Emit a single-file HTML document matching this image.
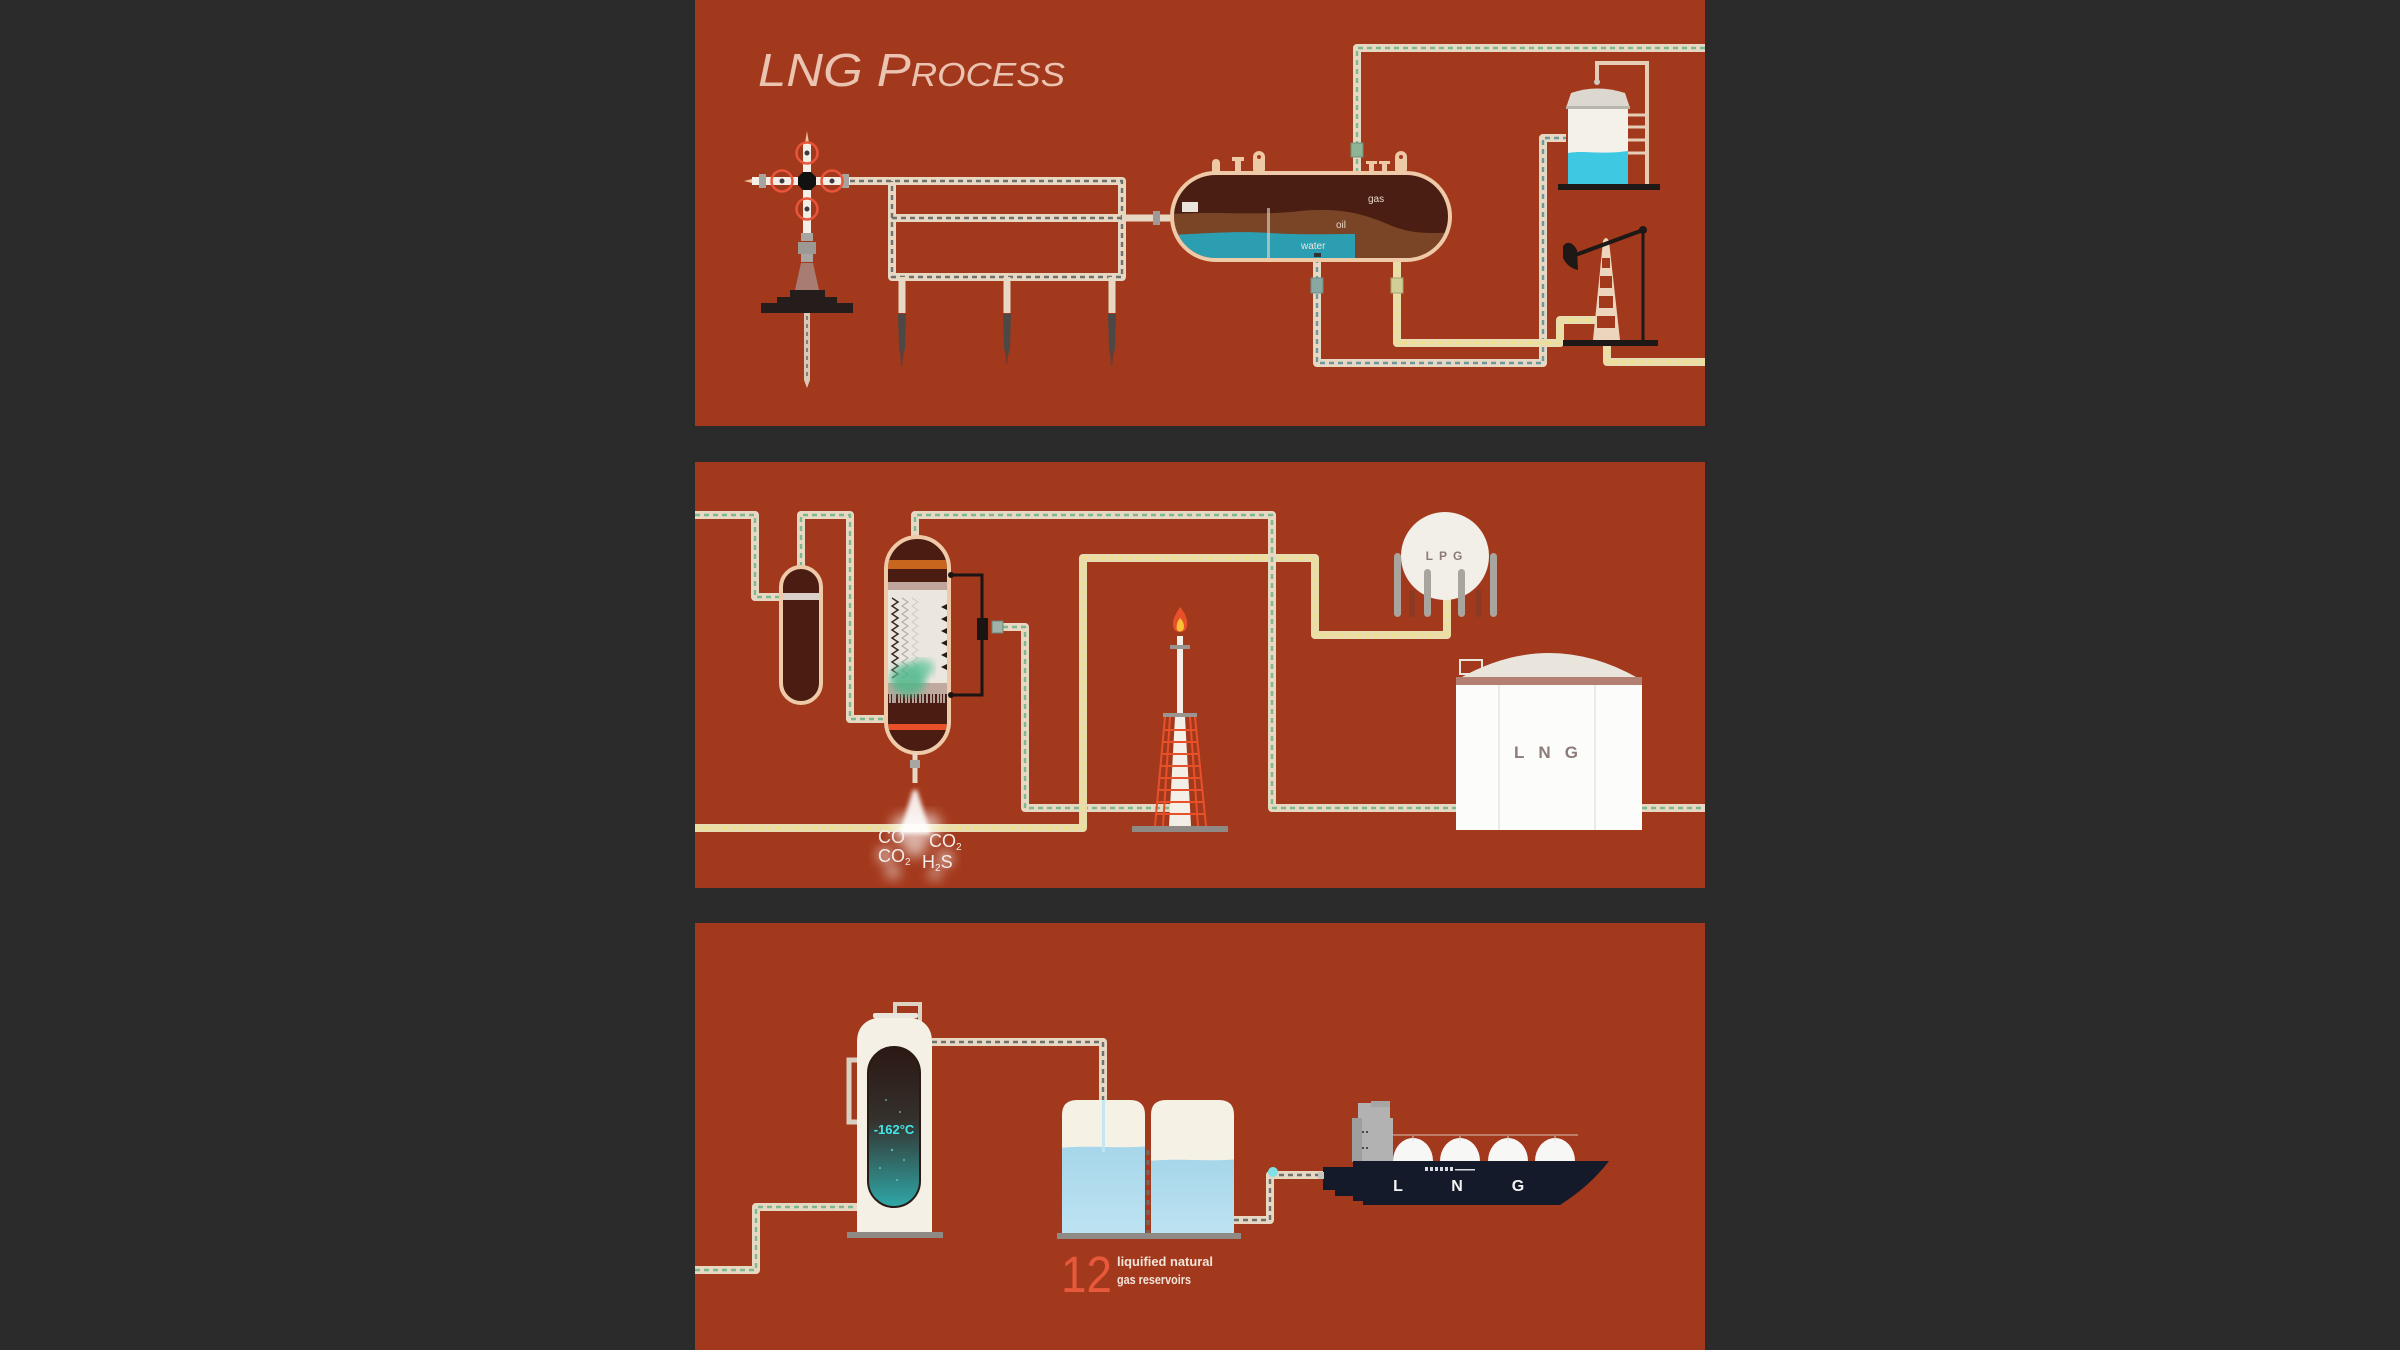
<!DOCTYPE html>
<html>
<head>
<meta charset="utf-8">
<style>
html,body{margin:0;padding:0;background:#2b2b2b;width:2400px;height:1350px;overflow:hidden;}
svg{position:absolute;left:0;top:0;}
.t{fill:none;stroke:#e7d8c4;stroke-width:8;stroke-linejoin:round;}
.ty{fill:none;stroke:#e9dcae;stroke-width:8;stroke-linejoin:round;}
.dg{fill:none;stroke:#7db98c;stroke-width:2.4;stroke-dasharray:5 4;}
.dy{fill:none;stroke:#f0e08a;stroke-width:2.4;stroke-dasharray:5 4;}
.dk{fill:none;stroke:#6f716c;stroke-width:2.4;stroke-dasharray:5 4;}
.dw{fill:none;stroke:#6c98a0;stroke-width:2.4;stroke-dasharray:5 4;}
.lbl{font-family:"Liberation Sans",sans-serif;}
</style>
</head>
<body>
<svg width="2400" height="1350" viewBox="0 0 2400 1350" xmlns="http://www.w3.org/2000/svg">
<defs>
  <filter id="blur2"><feGaussianBlur stdDeviation="2"/></filter>
  <filter id="blur4"><feGaussianBlur stdDeviation="4"/></filter>
  <filter id="blur6"><feGaussianBlur stdDeviation="6"/></filter>
  <linearGradient id="cold" x1="0" y1="0" x2="0" y2="1">
    <stop offset="0" stop-color="#2c1814"/>
    <stop offset="0.45" stop-color="#34302c"/>
    <stop offset="1" stop-color="#2fa8a8"/>
  </linearGradient>
  <linearGradient id="liq" x1="0" y1="0" x2="0" y2="1">
    <stop offset="0" stop-color="#a6d6ea"/>
    <stop offset="1" stop-color="#bfe4f2"/>
  </linearGradient>
  <clipPath id="sepclip"><rect x="1174" y="175" width="274" height="83" rx="41.5"/></clipPath>
  <clipPath id="colclip"><rect x="888" y="539" width="59" height="212" rx="29.5"/></clipPath>
  <clipPath id="t1clip"><path d="M1062 1233 V1115 Q1062 1100 1077 1100 H1130 Q1145 1100 1145 1115 V1233 Z"/></clipPath>
  <clipPath id="t2clip"><path d="M1151 1233 V1115 Q1151 1100 1166 1100 H1219 Q1234 1100 1234 1115 V1233 Z"/></clipPath>
</defs>

<!-- panels -->
<rect x="695" y="0" width="1010" height="426" fill="#a3391c"/>
<rect x="695" y="462" width="1010" height="426" fill="#a3391c"/>
<rect x="695" y="923" width="1010" height="427" fill="#a3391c"/>

<!-- ================= PANEL 1 ================= -->
<text class="lbl" x="758" y="86" font-style="italic" fill="#f2d3c2" fill-opacity="0.9" textLength="307" lengthAdjust="spacingAndGlyphs"><tspan font-size="46">LNG P</tspan><tspan font-size="33">ROCESS</tspan></text>

<!-- wellhead downward pipe -->
<path d="M807 313 V380" stroke="#d9c9b6" stroke-width="6" fill="none"/>
<path d="M804 380 L807 388 L810 380 Z" fill="#d9c9b6"/>
<path d="M807 316 V380" stroke="#6f6c68" stroke-width="1.6" stroke-dasharray="4 4" fill="none"/>

<!-- manifold -->
<path class="t" d="M850 181 H1122 V277 H892 V181 M892 218 H1122"/>
<path class="dk" d="M850 181 H1122 V277 H892 V181 M892 218 H1122"/>
<path d="M1122 218 H1176" stroke="#e7d8c4" stroke-width="7" fill="none"/>
<rect x="1153" y="211" width="7" height="14" fill="#9d9a96"/>
<!-- legs -->
<path d="M902 277 V313 M1007 277 V313 M1112 277 V313" stroke="#e7d8c4" stroke-width="7" fill="none"/>
<g fill="#4d4846">
  <path d="M898 314 H906 L905 348 L902 362 L899 348 Z"/>
  <path d="M1003 314 H1011 L1010 348 L1007 360 L1004 348 Z"/>
  <path d="M1108 314 H1116 L1115 348 L1112 362 L1109 348 Z"/>
</g>
<g fill="#6a3a30" opacity="0.5"><rect x="900" y="350" width="3" height="16"/><rect x="1005" y="350" width="3" height="14"/><rect x="1110" y="350" width="3" height="16"/></g>

<!-- wellhead -->
<path d="M805 143 L807 131 L809 143 Z" fill="#f0c0a0"/>
<rect x="803" y="143" width="8" height="92" fill="#f4efe6"/>
<path d="M752 179 L744 181 L752 183 Z" fill="#f0c0a0"/>
<rect x="752" y="177" width="98" height="8" fill="#f4efe6"/>
<rect x="759" y="174" width="7" height="14" fill="#a7a39e"/>
<rect x="842" y="174" width="7" height="14" fill="#a7a39e"/>
<g fill="none" stroke="#e8553a" stroke-width="2.5">
  <circle cx="782" cy="181" r="10.5"/><circle cx="832" cy="181" r="10.5"/>
  <circle cx="807" cy="153" r="10.5"/><circle cx="807" cy="209" r="10.5"/>
</g>
<g fill="#3b3a44"><circle cx="782" cy="181" r="2.5"/><circle cx="832" cy="181" r="2.5"/><circle cx="807" cy="153" r="2.5"/><circle cx="807" cy="209" r="2.5"/></g>
<path d="M803 172 H811 L816 177 V185 L811 190 H803 L798 185 V177 Z" fill="#111"/>
<rect x="801" y="233" width="12" height="8" fill="#a8a4a0"/>
<rect x="798" y="242" width="18" height="12" fill="#9c9894"/>
<rect x="801" y="254" width="12" height="8" fill="#a8a4a0"/>
<path d="M801 263 H813 L819 290 H795 Z" fill="#a77d73"/>
<rect x="790" y="290" width="35" height="7" fill="#241d1b"/>
<rect x="777" y="297" width="60" height="6" fill="#241d1b"/>
<rect x="761" y="303" width="92" height="10" fill="#241d1b"/>

<!-- gas pipe from separator -->
<path class="t" d="M1357 173 V48 H1705"/>
<path class="dg" d="M1357 173 V48 H1705"/>
<rect x="1351" y="143" width="12" height="14" fill="#8db494" stroke="#6e8f78" stroke-width="1"/>
<!-- water pipe -->
<path class="t" d="M1317 258 V363 H1543 V138 H1566"/>
<path class="dw" d="M1317 258 V363 H1543 V138 H1566"/>
<rect x="1311" y="278" width="12" height="15" fill="#8aa8a2" stroke="#6c8a86" stroke-width="1"/>
<!-- oil pipes -->
<path class="ty" d="M1397 258 V343 H1560 V320 H1597"/>
<path class="dy" d="M1397 258 V343 H1560 V320 H1597"/>
<path class="ty" d="M1607 340 V362 H1705"/>
<path class="dy" d="M1607 340 V362 H1705"/>
<rect x="1391" y="278" width="12" height="15" fill="#cfcf96" stroke="#a3a270" stroke-width="1"/>

<!-- separator nozzles -->
<g fill="#edc9a6">
  <rect x="1212" y="159" width="8" height="16" rx="4"/>
  <rect x="1235" y="161" width="6" height="14"/><rect x="1232" y="157" width="12" height="4"/>
  <rect x="1253" y="151" width="12" height="24" rx="6"/>
  <rect x="1369" y="164" width="5" height="11"/><rect x="1366" y="161" width="11" height="3"/>
  <rect x="1382" y="164" width="5" height="11"/><rect x="1379" y="161" width="11" height="3"/>
  <rect x="1395" y="151" width="12" height="24" rx="6"/>
</g>
<circle cx="1259" cy="157" r="2" fill="#a3391c"/>
<circle cx="1401" cy="157" r="2" fill="#a3391c"/>
<!-- separator vessel -->
<rect x="1172" y="173" width="278" height="87" rx="43.5" fill="#4a1e12"/>
<g clip-path="url(#sepclip)">
  <path d="M1172 214 C1220 211 1260 216 1300 211 C1340 207 1365 214 1392 226 C1418 236 1435 232 1452 233 V262 H1172 Z" fill="#7a4426"/>
  <path d="M1172 235 C1210 233 1240 231 1270 233 C1300 235 1330 234 1355 234 V262 H1172 Z" fill="#2b9fb1"/>
  <rect x="1182" y="202" width="16" height="10" fill="#e8e4dc"/>
  <rect x="1267" y="208" width="3" height="50" fill="#e8d8c8" opacity="0.6"/>
</g>
<rect x="1172" y="173" width="278" height="87" rx="43.5" fill="none" stroke="#eecaa8" stroke-width="4"/>
<text class="lbl" x="1368" y="202" font-size="10" fill="#e9d6c8">gas</text>
<text class="lbl" x="1336" y="228" font-size="10" fill="#e9d6c8">oil</text>
<text class="lbl" x="1301" y="249" font-size="10" fill="#e9e6e0">water</text>
<rect x="1314" y="253" width="7" height="4" fill="#333"/>

<!-- storage tank top right -->
<path d="M1597 80 V63 H1647 V186" fill="none" stroke="#e6cdb6" stroke-width="4"/>
<g stroke="#e6cdb6" stroke-width="3"><line x1="1628" y1="115" x2="1647" y2="115"/><line x1="1628" y1="127" x2="1647" y2="127"/><line x1="1628" y1="140" x2="1647" y2="140"/><line x1="1628" y1="153" x2="1647" y2="153"/></g>
<rect x="1568" y="108" width="60" height="77" fill="#f4f1e8"/>
<path d="M1568 153 C1585 150 1600 155 1628 151 V185 H1568 Z" fill="#3ec8e2"/>
<path d="M1566 108 L1571 93 Q1597 84 1625 93 L1630 108 Z" fill="#dcd8d0"/>
<rect x="1566" y="106" width="64" height="3" fill="#b9b4ac"/>
<circle cx="1597" cy="82" r="3" fill="#cfcac2"/>
<rect x="1558" y="184" width="102" height="6" fill="#1e1816"/>

<!-- pump jack -->
<path d="M1593 340 L1603 241 Q1606 235 1609 241 L1620 340 Z" fill="#ecd4bd"/>
<g fill="#a3391c"><rect x="1602" y="258" width="8" height="10"/><rect x="1600" y="276" width="12" height="12"/><rect x="1599" y="296" width="14" height="12"/><rect x="1597" y="316" width="18" height="12"/></g>
<line x1="1570" y1="257" x2="1643" y2="230" stroke="#1e1816" stroke-width="4"/>
<path d="M1563 246 Q1570 238 1577 250 L1578 270 Q1568 268 1563 258 Z" fill="#1e1816"/>
<circle cx="1643" cy="230" r="4" fill="#1e1816"/>
<line x1="1643" y1="230" x2="1643" y2="341" stroke="#1e1816" stroke-width="3"/>
<rect x="1563" y="340" width="95" height="6" fill="#1e1816"/>

<!-- ================= PANEL 2 ================= -->
<!-- green pipes -->
<path class="t" d="M695 515 H755 V597 H783"/>
<path class="dg" d="M695 515 H755 V597 H783"/>
<path class="t" d="M801 567 V515 H850 V719 H887"/>
<path class="dg" d="M801 567 V515 H850 V719 H887"/>
<path class="t" d="M915 540 V515 H1272 V808 H1457 M1642 808 H1705"/>
<path class="dg" d="M915 540 V515 H1272 V808 H1457 M1642 808 H1705"/>
<path class="t" d="M1003 627 H1025 V808 H1180"/>
<path class="dg" d="M1003 627 H1025 V808 H1180"/>
<!-- yellow pipe -->
<path class="ty" d="M695 828 H1083 V558 H1315 V635 H1447 V598"/>
<path class="dy" d="M695 828 H1083 V558 H1315 V635 H1447 V598"/>
<!-- redraw green vertical on top at crossing -->
<path d="M1272 548 V568" stroke="#e7d8c4" stroke-width="8"/>
<path d="M1272 548 V568" stroke="#7db98c" stroke-width="2.4" stroke-dasharray="5 4"/>

<!-- small column -->
<rect x="781" y="567" width="40" height="136" rx="20" fill="#4a1c12" stroke="#eecaa8" stroke-width="4"/>
<rect x="783" y="593" width="36" height="7" fill="#d9d1c9"/>

<!-- big column -->
<rect x="886" y="537" width="63" height="216" rx="31.5" fill="#4a1c12"/>
<g clip-path="url(#colclip)">
  <rect x="886" y="560" width="63" height="9" fill="#c9661e"/>
  <rect x="886" y="582" width="63" height="8" fill="#c0a59c"/>
  <rect x="886" y="590" width="63" height="93" fill="#ebe7df"/>
  <path d="M892 598 l6 4 l-6 4 l6 4 l-6 4 l6 4 l-6 4 l6 4 l-6 4 l6 4 l-6 4 l6 4 l-6 4 l6 4 l-6 4 l6 4 l-6 4 l6 4 l-6 4 l6 4 l-6 4" fill="none" stroke="#3a2a24" stroke-width="1.5"/>
  <path d="M902 598 l6 4 l-6 4 l6 4 l-6 4 l6 4 l-6 4 l6 4 l-6 4 l6 4 l-6 4 l6 4 l-6 4 l6 4 l-6 4 l6 4 l-6 4 l6 4 l-6 4 l6 4 l-6 4" fill="none" stroke="#b8b0a8" stroke-width="1.2"/>
  <path d="M912 598 l6 4 l-6 4 l6 4 l-6 4 l6 4 l-6 4 l6 4 l-6 4 l6 4 l-6 4 l6 4 l-6 4 l6 4 l-6 4 l6 4 l-6 4 l6 4 l-6 4 l6 4 l-6 4" fill="none" stroke="#d0c8c0" stroke-width="1"/>
  <g fill="#2a1a14">
    <path d="M947 604 l-6 3 l6 3 Z"/><path d="M947 616 l-6 3 l6 3 Z"/><path d="M947 628 l-6 3 l6 3 Z"/><path d="M947 640 l-6 3 l6 3 Z"/><path d="M947 652 l-6 3 l6 3 Z"/><path d="M947 664 l-6 3 l6 3 Z"/>
  </g>
  <rect x="886" y="683" width="63" height="11" fill="#c0aaa0"/>
  <path d="M890 694 V703 M893 694 V703 M895 694 V703 M899 694 V703 M902 694 V703 M906 694 V703 M909 694 V703 M913 694 V703 M916 694 V703 M920 694 V703 M923 694 V703 M927 694 V703 M931 694 V703 M934 694 V703 M938 694 V703 M941 694 V703 M944 694 V703" stroke="#d8d0c8" stroke-width="1.5"/>
  <ellipse cx="908" cy="680" rx="18" ry="16" fill="#4fb78a" opacity="0.85" filter="url(#blur4)"/>
  <ellipse cx="922" cy="668" rx="12" ry="9" fill="#5cc398" opacity="0.7" filter="url(#blur4)"/>
  <rect x="886" y="724" width="63" height="6" fill="#e8502a"/>
</g>
<rect x="886" y="537" width="63" height="216" rx="31.5" fill="none" stroke="#eecaa8" stroke-width="4"/>
<!-- black loop -->
<path d="M949 575 H982 V695 H949" fill="none" stroke="#1a1412" stroke-width="3"/>
<circle cx="951" cy="575" r="3" fill="#1a1412"/><circle cx="951" cy="695" r="3" fill="#1a1412"/>
<rect x="977" y="618" width="11" height="22" fill="#1a1412"/>
<rect x="992" y="621" width="11" height="12" fill="#9fb3a8" stroke="#6f8478" stroke-width="1"/>
<!-- bottom outlet and spray -->
<path d="M915 753 V783" stroke="#e7d8c4" stroke-width="5"/>
<rect x="910" y="760" width="10" height="8" fill="#a8a6a2"/>
<g fill="#ffffff" filter="url(#blur6)" opacity="0.6">
  <circle cx="905" cy="828" r="14"/><circle cx="928" cy="826" r="13"/><circle cx="915" cy="845" r="12"/>
  <circle cx="885" cy="855" r="8"/><circle cx="945" cy="858" r="8"/><circle cx="893" cy="872" r="7"/><circle cx="935" cy="874" r="6"/>
</g>
<path d="M913 790 H917 L931 834 H899 Z" fill="#ffffff" opacity="0.9" filter="url(#blur2)"/>
<g class="lbl" fill="#f3ece8" font-size="18">
  <text x="878" y="843">CO</text>
  <text x="929" y="847">CO<tspan font-size="10" dy="3">2</tspan></text>
  <text x="878" y="862">CO<tspan font-size="10" dy="3">2</tspan></text>
  <text x="922" y="868">H<tspan font-size="10" dy="3">2</tspan><tspan dy="-3">S</tspan></text>
</g>

<!-- flare -->
<path d="M1180 607 C1186 614 1189 622 1186 629 C1184 633 1176 633 1174 629 C1171 622 1175 615 1180 607 Z" fill="#e8502a"/>
<path d="M1180 618 C1184 622 1185 627 1183 630 C1181 632 1179 632 1177 630 C1176 626 1177 622 1180 618 Z" fill="#f9c234"/>
<rect x="1177" y="636" width="6" height="80" fill="#f4efe6"/>
<rect x="1170" y="645" width="20" height="4" fill="#9a9590"/>
<rect x="1163" y="713" width="34" height="4" fill="#9a9590"/>
<path d="M1175 717 H1185 L1191 826 H1169 Z" fill="#f4efe6"/>
<g stroke="#e8502a" stroke-width="2" fill="none">
  <path d="M1165 717 L1155 826 M1195 717 L1206 826 M1170 717 L1163 826 M1190 717 L1198 826"/>
  <path d="M1164 730 H1196 M1163 742 H1197 M1162 754 H1198 M1161 766 H1200 M1160 778 H1201 M1159 790 H1202 M1158 802 H1204 M1157 814 H1205"/>
</g>
<rect x="1132" y="826" width="96" height="6" fill="#8f8a86"/>

<!-- LPG sphere -->
<rect x="1394" y="553" width="7" height="64" rx="3.5" fill="#a9a59e"/>
<rect x="1490" y="553" width="7" height="64" rx="3.5" fill="#a9a59e"/>
<circle cx="1445" cy="556" r="44" fill="#f1efe7"/>
<rect x="1409" y="590" width="6" height="27" fill="#8d3a22"/>
<rect x="1476" y="590" width="6" height="27" fill="#8d3a22"/>
<rect x="1424" y="569" width="7" height="48" rx="3.5" fill="#a9a59e"/>
<rect x="1458" y="569" width="7" height="48" rx="3.5" fill="#a9a59e"/>
<text class="lbl" x="1447" y="560" font-size="12" font-weight="bold" fill="#8c7b79" text-anchor="middle" letter-spacing="6">LPG</text>

<!-- LNG tank -->
<rect x="1460" y="660" width="22" height="14" fill="none" stroke="#e9e5dd" stroke-width="2"/>
<path d="M1460 678 Q1549 628 1638 678 Z" fill="#e9e5dd"/>
<rect x="1456" y="677" width="186" height="8" fill="#b47f73"/>
<rect x="1456" y="685" width="186" height="145" fill="#fcfcfa"/>
<line x1="1499" y1="685" x2="1499" y2="830" stroke="#d6d8e0" stroke-width="1"/>
<line x1="1595" y1="685" x2="1595" y2="830" stroke="#d6d8e0" stroke-width="1"/>
<text class="lbl" x="1553" y="758" font-size="17" font-weight="bold" fill="#8c7b79" text-anchor="middle" letter-spacing="14">LNG</text>

<!-- ================= PANEL 3 ================= -->
<path class="t" d="M695 1270 H756 V1207 H857"/>
<path class="dg" d="M695 1270 H756 V1207 H857"/>
<path class="t" d="M932 1042 H1103 V1100"/>
<path class="dk" d="M932 1042 H1103 V1100"/>
<path class="t" d="M1234 1220 H1270 V1175 H1325"/>
<path class="dk" d="M1234 1220 H1270 V1175 H1325"/>
<circle cx="1273" cy="1172" r="5" fill="#7fe0e6"/>

<!-- cold box -->
<path d="M895 1016 V1004 H920 V1022" fill="none" stroke="#ddd3c3" stroke-width="4"/>
<path d="M858 1060 H849 V1122 H858" fill="none" stroke="#d8cfc0" stroke-width="5"/>
<path d="M857 1042 C857 1024 869 1019 880 1017 H909 C920 1019 932 1024 932 1042 Z" fill="#f4f0e6"/>
<rect x="873" y="1013" width="45" height="5" rx="2" fill="#ebe6dc"/>
<rect x="857" y="1040" width="75" height="193" fill="#f4f0e6"/>
<rect x="868" y="1047" width="52" height="160" rx="26" fill="url(#cold)" stroke="#2a1a16" stroke-width="2"/>
<g fill="#7ff0f0" opacity="0.6"><circle cx="886" cy="1100" r="1"/><circle cx="900" cy="1112" r="1"/><circle cx="892" cy="1150" r="1.2"/><circle cx="904" cy="1160" r="1"/><circle cx="880" cy="1168" r="1"/><circle cx="897" cy="1180" r="1"/></g>
<text class="lbl" x="894" y="1134" font-size="13" font-weight="bold" fill="#44e6e8" text-anchor="middle">-162°C</text>
<rect x="847" y="1232" width="96" height="6" fill="#8f8a86"/>

<!-- reservoirs -->
<path d="M1062 1233 V1115 Q1062 1100 1077 1100 H1130 Q1145 1100 1145 1115 V1233 Z" fill="#f5f1e4"/>
<path d="M1151 1233 V1115 Q1151 1100 1166 1100 H1219 Q1234 1100 1234 1115 V1233 Z" fill="#f5f1e4"/>
<g clip-path="url(#t1clip)"><path d="M1060 1148 C1090 1145 1115 1149 1150 1146 V1240 H1060 Z" fill="url(#liq)"/></g>
<g clip-path="url(#t2clip)"><path d="M1148 1161 C1180 1158 1205 1162 1240 1159 V1240 H1148 Z" fill="url(#liq)"/></g>
<rect x="1102" y="1100" width="3" height="52" fill="#bfe6f4" opacity="0.9"/>
<line x1="1148" y1="1150" x2="1148" y2="1233" stroke="#6f6a66" stroke-width="3" stroke-dasharray="5 5"/>
<rect x="1057" y="1233" width="184" height="6" fill="#8f8a86"/>
<text class="lbl" x="1061" y="1292" font-size="51" fill="#e8583a" textLength="51" lengthAdjust="spacingAndGlyphs">12</text>
<text class="lbl" x="1117" y="1266" font-size="13" font-weight="bold" fill="#f3e4da" textLength="96" lengthAdjust="spacingAndGlyphs">liquified natural</text>
<text class="lbl" x="1117" y="1284" font-size="13" font-weight="bold" fill="#f3e4da" textLength="74" lengthAdjust="spacingAndGlyphs">gas reservoirs</text>

<!-- ship -->
<rect x="1358" y="1103" width="32" height="16" fill="#b2b2b2"/>
<rect x="1371" y="1101" width="19" height="6" fill="#a6a6a6"/>
<rect x="1352" y="1118" width="41" height="44" fill="#b2b2b2"/>
<rect x="1352" y="1118" width="10" height="44" fill="#9e9e9e"/>
<g fill="#4a4a4a"><rect x="1362" y="1131" width="2" height="2"/><rect x="1366" y="1131" width="2" height="2"/><rect x="1362" y="1147" width="2" height="2"/><rect x="1366" y="1147" width="2" height="2"/></g>
<line x1="1393" y1="1135" x2="1578" y2="1135" stroke="#cfa696" stroke-width="1.2"/>
<g fill="#f7f7f5">
  <path d="M1393 1161 A20 23 0 0 1 1433 1161 Z"/>
  <path d="M1440 1161 A20 23 0 0 1 1480 1161 Z"/>
  <path d="M1488 1161 A20 23 0 0 1 1528 1161 Z"/>
  <path d="M1535 1161 A20 23 0 0 1 1575 1161 Z"/>
</g>
<g stroke="#d8d4cc" stroke-width="1"><line x1="1413" y1="1136" x2="1413" y2="1141"/><line x1="1460" y1="1136" x2="1460" y2="1141"/><line x1="1508" y1="1136" x2="1508" y2="1141"/><line x1="1555" y1="1136" x2="1555" y2="1141"/></g>
<path d="M1323 1167 H1353 V1161 H1609 Q1590 1186 1560 1205 H1363 V1201 H1353 V1196 H1335 V1190 H1323 Z" fill="#151a2b"/>
<rect x="1318" y="1172" width="6" height="7" fill="#c8c4bc"/>
<g fill="#d8dce6"><rect x="1425" y="1167" width="3" height="4"/><rect x="1430" y="1167" width="3" height="4"/><rect x="1435" y="1167" width="3" height="4"/><rect x="1440" y="1167" width="3" height="4"/><rect x="1445" y="1167" width="3" height="4"/><rect x="1450" y="1167" width="3" height="4"/><rect x="1455" y="1169" width="20" height="1.5"/></g>
<g class="lbl" font-size="16" font-weight="bold" fill="#f4f4f4" text-anchor="middle">
  <text x="1398" y="1191">L</text><text x="1457" y="1191">N</text><text x="1518" y="1191">G</text>
</g>
</svg>
</body>
</html>
